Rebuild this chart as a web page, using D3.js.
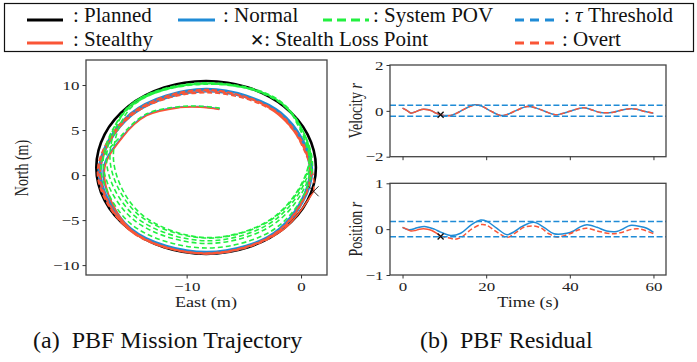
<!DOCTYPE html>
<html>
<head>
<meta charset="utf-8">
<script src="https://cdn.jsdelivr.net/npm/d3@7"></script>
<style>
  html, body { margin: 0; padding: 0; background: #fff; }
  svg { display: block; }
  .tick text { font-family: "Liberation Serif", "Times New Roman", "DejaVu Serif", serif; font-size: 13px; fill: #222; }
  .tick line { stroke: #333; }
</style>
</head>
<body>
<svg id="fig" width="697" height="362"></svg>
<script>
// ---- colours
const cBlue = '#1f8bd6', cRed = '#fa5536', cGreen = '#22f040';
const serif = '"Liberation Serif", "Times New Roman", "DejaVu Serif", serif';

// ---- trajectory (East, North) in metres
const plannedPath = [[1.30,0.85],[0.57,4.52],[-1.51,7.64],[-4.63,9.72],[-8.3,10.45],[-11.97,9.72],[-15.09,7.64],[-17.17,4.52],
  [-17.9,0.85],[-17.17,-2.82],[-15.09,-5.94],[-11.97,-8.02],[-8.3,-8.75],[-4.63,-8.02],[-1.51,-5.94],[0.57,-2.82]];

const normalPath = [[-7.1,7.35],[-8.8,7.6],[-10.6,7.55],[-13.5,6.7],[-15.6,4.3],[-17.3,0.45],[-14.9,-5.91],[-8.25,-8.65],
  [-1.75,-6.05],[1.0,0.45],[-1.75,6.95],[-8.25,9.45],[-14.8,6.74],[-17.5,0.45],[-14.9,-5.95],[-8.25,-8.55],
  [-1.85,-5.95],[0.85,0.45],[-1.82,6.88],[-8.25,9.6],[-14.9,6.88],[-17.7,0.45],[-15.0,-6.02],[-8.25,-8.65],
  [-1.89,-5.91],[0.75,0.45],[-1.89,6.81],[-8.25,9.25],[-14.7,6.71],[-17.55,0.45],[-14.95,-5.98],[-8.25,-8.75],
  [-1.75,-6.05],[0.9,0.45],[-1.85,6.85],[-8.25,9.5],[-14.85,6.81],[-17.6,0.45],[-14.85,-5.91],[-8.25,-8.5],
  [-1.85,-5.95],[0.95,0.45],[-1.04,6.09]];

const stealthyPath = [[-7.15,7.3],[-8.8,7.55],[-10.6,7.5],[-13.5,6.6],[-15.6,4.2],[-17.2,0.35],[-14.9,-6.05],[-8.25,-8.75],
  [-1.7,-6.2],[1.1,-1.8]];

const overtPath = [[1.1,-1.8],[1.0,0.3],[-1.87,6.73],[-8.3,9.3],[-14.85,6.59],[-17.6,0.3],[-15.0,-6.13],[-8.3,-8.75],
  [-1.8,-6.2],[0.8,0.3],[-1.94,6.66],[-8.3,9.15],[-14.8,6.63],[-17.75,0.3],[-14.9,-6.06],[-8.3,-8.7],
  [-1.87,-6.13],[0.9,0.3],[-1.83,6.77],[-8.3,9.4],[-14.9,6.7],[-17.55,0.3],[-14.95,-6.1],[-8.3,-8.65],
  [-1.9,-6.1],[0.8,0.3],[-1.94,6.66],[-8.3,9.5],[-14.95,6.73],[-17.8,0.3],[-15.0,-6.13],[-8.3,-8.7],
  [-1.87,-6.13],[0.9,0.3],[-1.13,5.91]];

const povPath = [[-7.1,7.45],[-8.8,7.65],[-10.6,7.6],[-13.5,6.8],[-15.7,4.4],[-17.5,1.0],[-14.9,-5.4],[-8.3,-8.1],
  [-1.9,-5.6],[1.0,1.0],[-1.6,7.8],[-8.3,10.15],[-14.9,7.6],[-17.3,1.3],[-14.7,-4.9],[-8.3,-7.6],
  [-2.0,-5.1],[0.9,1.2],[-1.6,7.9],[-8.3,10.2],[-15.0,7.7],[-17.0,1.5],[-14.5,-4.6],[-8.2,-7.3],
  [-2.1,-4.8],[0.8,1.4],[-1.6,8.0],[-8.3,10.25],[-14.9,7.8],[-16.7,1.7],[-14.3,-4.3],[-8.2,-7.0],
  [-2.2,-4.6],[0.7,1.5],[-1.7,7.95],[-8.3,10.1],[-14.7,7.7],[-16.4,1.8],[-14.1,-4.2],[-8.2,-6.95],
  [-2.2,-4.5],[0.7,1.6],[-1.0,7.2]];

const lossPointXY = [1.1, -1.8];

// ---- residuals [time s, r]
const velNormal = [[0,0.12],[1,0.02],[2,-0.09],[3,-0.05],[4,0.03],[5,0.07],[6,0.06],[7,0.0],[8,-0.1],[9,-0.17],
  [10,-0.2],[11.5,-0.2],[13,-0.1],[15,0.1],[17.3,0.27],[19,0.2],[21,0.0],[23.4,-0.2],[25,-0.16],[27,0.0],
  [29.8,0.19],[32,0.12],[34,-0.02],[36.5,-0.17],[38,-0.13],[40,-0.02],[43.3,0.14],[45,0.06],[47.3,-0.07],
  [50.4,-0.06],[52,0.02],[54.4,0.09],[56,0.07],[58,-0.03],[60,-0.1]];
const velStealthy = [[0,0.12],[1,0.02],[2,-0.1],[3,-0.05],[4,0.03],[5,0.07],[6,0.05],[7,0.0],[8,-0.1],[9.1,-0.17]];
const velOvert = [[9.1,-0.17],[10,-0.21],[11.5,-0.2],[13,-0.1],[15,0.1],[17.3,0.26],[19,0.2],[21,0.0],[23.4,-0.2],
  [25,-0.16],[27,0.0],[29.8,0.19],[32,0.12],[34,-0.02],[36.5,-0.17],[38,-0.13],[40,-0.02],[43.3,0.14],[45,0.06],
  [47.3,-0.07],[50.4,-0.06],[52,0.02],[54.4,0.09],[56,0.07],[58,-0.03],[60,-0.1]];

const posNormal = [[0,0.04],[1.6,-0.015],[3.5,0.03],[5.2,0.06],[7.6,0.0],[9.1,-0.065],[11.5,-0.14],[13.9,-0.09],
  [16.5,0.1],[18.7,0.2],[20.2,0.17],[22.5,0.02],[25,-0.12],[26.8,-0.05],[28.6,0.06],[31.4,0.15],[33.8,0.04],
  [36.2,-0.1],[39.3,-0.09],[40.9,-0.04],[42.5,0.05],[44.1,0.095],[46.5,0.04],[48.8,-0.04],[51.2,-0.05],
  [52.8,0.01],[54.4,0.08],[56.8,0.06],[58.4,0.02],[60,-0.07]];
const posStealthy = [[0,0.04],[1,0.0],[2,-0.04],[3,-0.03],[4,0.0],[5,0.01],[6,0.0],[7,-0.03],[8,-0.08],[9.1,-0.15]];
const posOvert = [[9.1,-0.15],[11.5,-0.2],[12.5,-0.22],[14,-0.18],[16.5,0.0],[18.7,0.1],[20,0.09],[22.5,-0.06],
  [25,-0.18],[27,-0.08],[29,0.04],[31,0.07],[33,0.03],[35,-0.1],[37,-0.17],[40,-0.1],[42,-0.02],[44,0.02],
  [47,-0.05],[50,-0.1],[52,-0.08],[55,0.0],[57,0.0],[60,-0.1]];

const velThreshold = 0.24, posThreshold = 0.165;
const lossTime = 9.1, lossVel = -0.17, lossPos = -0.16;

// ---- ticks
const trajXTicks = [-10, 0], trajYTicks = [-10, -5, 0, 5, 10];
const timeTicks = [0, 20, 40, 60], velTicks = [-2, 0, 2], posTicks = [-1, 0, 1];

const svg = d3.select('#fig');
const SX = 1.3; // the figure is stretched horizontally
const fmt = d3.format('d');

// scales
const xE = d3.scaleLinear().domain([-18.8, 2.27]).range([86, 327]);
const yN = d3.scaleLinear().domain([-11.1, 12.78]).range([275, 60]);
const xT = d3.scaleLinear().domain([-3, 63]).range([390, 666]);
const yV = d3.scaleLinear().domain([-2, 2]).range([156.7, 65]);
const yP = d3.scaleLinear().domain([-1, 1]).range([275, 183.3]);

function stretchTicks(g) {
  g.selectAll('.tick text').each(function () {
    const t = d3.select(this);
    const x = +t.attr('x') || 0;
    t.attr('x', x / SX).attr('transform', `scale(${SX},1)`);
  });
  g.select('.domain').remove();
  g.selectAll('.tick line').attr('stroke-width', 1);
}

function frame(x, y) {
  svg.append('rect')
    .attr('x', x.range()[0]).attr('y', y.range()[1])
    .attr('width', x.range()[1] - x.range()[0])
    .attr('height', y.range()[0] - y.range()[1])
    .attr('fill', 'none').attr('stroke', '#444').attr('stroke-width', 1.3);
}

function label(text, x, y, rot, italicTail) {
  const t = svg.append('text')
    .attr('transform', `translate(${x},${y}) scale(${SX},1)` + (rot ? ' rotate(-90)' : ''))
    .attr('text-anchor', 'middle')
    .style('font-family', serif)
    .style('font-size', '14px').style('fill', '#222')
    .text(text);
  if (italicTail) t.append('tspan').style('font-style', 'italic').text(italicTail);
}

function crossMark(px, py, s, w) {
  svg.append('path')
    .attr('d', `M${px - s},${py - s}L${px + s},${py + s}M${px - s},${py + s}L${px + s},${py - s}`)
    .attr('stroke', '#111').attr('stroke-width', w).attr('fill', 'none');
}

// ================= (a) trajectory
svg.append('clipPath').attr('id', 'clipA').append('rect')
  .attr('x', 86).attr('y', 60).attr('width', 241).attr('height', 215);
const gA = svg.append('g').attr('clip-path', 'url(#clipA)');
const traj = d3.line().x(d => xE(d[0])).y(d => yN(d[1])).curve(d3.curveCatmullRom.alpha(0.5));
const trajClosed = d3.line().x(d => xE(d[0])).y(d => yN(d[1])).curve(d3.curveCatmullRomClosed.alpha(0.5));

gA.append('path').attr('d', trajClosed(plannedPath)).attr('fill', 'none').attr('stroke', '#000').attr('stroke-width', 2.6);
gA.append('path').attr('d', traj(normalPath)).attr('fill', 'none').attr('stroke', cBlue).attr('stroke-width', 1.6);
gA.append('path').attr('d', traj(stealthyPath)).attr('fill', 'none').attr('stroke', cRed).attr('stroke-width', 1.6);
gA.append('path').attr('d', traj(overtPath)).attr('fill', 'none').attr('stroke', cRed).attr('stroke-width', 1.6)
  .attr('stroke-dasharray', '5,3');
gA.append('path').attr('d', traj(povPath)).attr('fill', 'none').attr('stroke', cGreen).attr('stroke-width', 1.6)
  .attr('stroke-dasharray', '5,3');
crossMark(xE(lossPointXY[0]), yN(lossPointXY[1]), 5, 0.9);

frame(xE, yN);
svg.append('g').attr('transform', 'translate(86,0)')
  .call(d3.axisLeft(yN).tickValues(trajYTicks).tickFormat(fmt).tickSize(3.5).tickPadding(3))
  .call(stretchTicks);
svg.append('g').attr('transform', 'translate(0,275)')
  .call(d3.axisBottom(xE).tickValues(trajXTicks).tickFormat(fmt).tickSize(3.5).tickPadding(3))
  .call(stretchTicks);
label('East (m)', 206, 307, false);
label('North (m)', 28, 168, true);

// ================= (b) residuals
const resLine = d3.line().x(d => xT(d[0])).curve(d3.curveCatmullRom.alpha(0.5));

function residualPanel(y, normal, stealthy, overt, thr, lossR, ticks, name, showX) {
  const ln = resLine.y(d => y(d[1]));
  svg.append('path').attr('d', ln(normal)).attr('fill', 'none').attr('stroke', cBlue).attr('stroke-width', 1.5);
  svg.append('path').attr('d', ln(stealthy)).attr('fill', 'none').attr('stroke', cRed).attr('stroke-width', 1.5);
  svg.append('path').attr('d', ln(overt)).attr('fill', 'none').attr('stroke', cRed).attr('stroke-width', 1.5)
    .attr('stroke-dasharray', '5,2.5');
  [thr, -thr].forEach(v => {
    svg.append('line').attr('x1', xT.range()[0]).attr('x2', xT.range()[1])
      .attr('y1', y(v)).attr('y2', y(v))
      .attr('stroke', cBlue).attr('stroke-width', 1.5).attr('stroke-dasharray', '6,2.6');
  });
  crossMark(xT(lossTime), y(lossR), 3, 1.3);
  frame(xT, y);
  svg.append('g').attr('transform', `translate(390,0)`)
    .call(d3.axisLeft(y).tickValues(ticks).tickFormat(fmt).tickSize(3.5).tickPadding(3))
    .call(stretchTicks);
  const gx = svg.append('g').attr('transform', `translate(0,${y.range()[0]})`)
    .call(d3.axisBottom(xT).tickValues(timeTicks).tickFormat(fmt).tickSize(3.5).tickPadding(3))
    .call(stretchTicks);
  if (!showX) gx.selectAll('.tick text').remove();
  label(name, 362, (y.range()[0] + y.range()[1]) / 2, true, 'r');
}
residualPanel(yV, velNormal, velStealthy, velOvert, velThreshold, lossVel, velTicks, 'Velocity ', false);
residualPanel(yP, posNormal, posStealthy, posOvert, posThreshold, lossPos, posTicks, 'Position ', true);
label('Time (s)', 528, 307, false);

// ================= legend
const legendRow1 = [
  { label: ': Planned', color: '#000', dash: null, x0: 27, x1: 63, tx: 73 },
  { label: ': Normal', color: cBlue, dash: null, x0: 178, x1: 215, tx: 223 },
  { label: ': System POV', color: cGreen, dash: '9,5', x0: 323, x1: 369, tx: 373 },
  { label: ': \u03c4 Threshold', color: cBlue, dash: '9,6', x0: 515, x1: 555, tx: 564, tau: true }
];
const legendRow2 = [
  { label: ': Stealthy', color: cRed, dash: null, x0: 27, x1: 63, tx: 73 },
  { label: ': Stealth Loss Point', cross: true, tx: 250 },
  { label: ': Overt', color: cRed, dash: '9,6', x0: 515, x1: 555, tx: 562 }
];
svg.append('rect').attr('x', 4.5).attr('y', 3.5).attr('width', 689).attr('height', 48)
  .attr('fill', 'none').attr('stroke', '#111').attr('stroke-width', 1.2);

function legendRow(items, lineY, baseY) {
  items.forEach(it => {
    if (!it.cross) {
      svg.append('line').attr('x1', it.x0).attr('x2', it.x1).attr('y1', lineY).attr('y2', lineY)
        .attr('stroke', it.color).attr('stroke-width', 3).attr('stroke-dasharray', it.dash);
    }
    const t = svg.append('text').attr('x', it.tx).attr('y', baseY)
      .style('font-family', serif).style('font-size', '21px').style('fill', '#111');
    if (it.cross) {
      t.append('tspan').style('font-family', '"DejaVu Sans", sans-serif').style('font-size', '17px').text('\u2715');
      t.append('tspan').text(it.label);
    } else if (it.tau) {
      t.append('tspan').text(': ');
      t.append('tspan').style('font-style', 'italic').text('\u03c4');
      t.append('tspan').text(' Threshold');
    } else {
      t.text(it.label);
    }
  });
}
legendRow(legendRow1, 20, 22);
legendRow(legendRow2, 43, 45.5);

// ================= captions
const captions = [{ text: '(a)\u00a0\u00a0PBF Mission Trajectory', x: 33 }, { text: '(b)\u00a0\u00a0PBF Residual', x: 420 }];
captions.forEach(c => {
  svg.append('text').attr('x', c.x).attr('y', 348)
    .style('font-family', serif).style('font-size', '24px').style('fill', '#111')
    .text(c.text);
});
</script>
</body>
</html>
